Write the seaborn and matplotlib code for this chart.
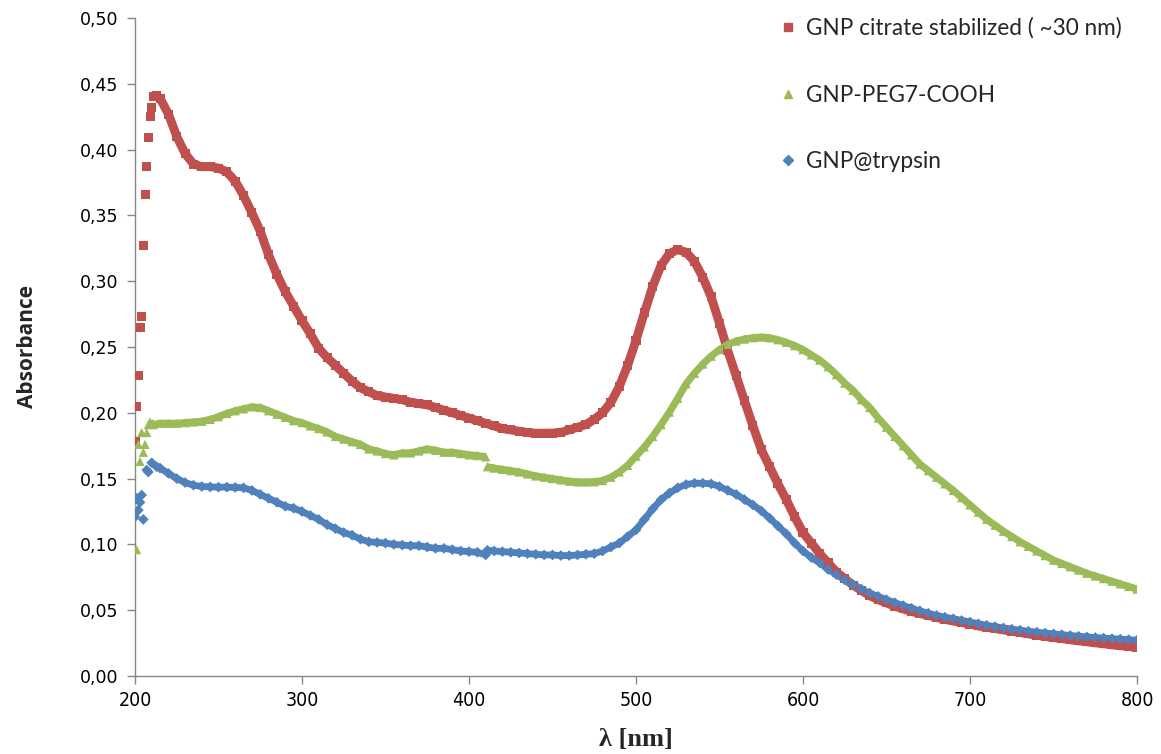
import matplotlib
matplotlib.use("Agg")
import numpy as np
import pandas as pd
import matplotlib.pyplot as plt
import seaborn as sns
from matplotlib.ticker import FuncFormatter, MultipleLocator
from matplotlib.lines import Line2D

# ---------------- data ----------------
red_nm = [200, 201, 202, 203, 204, 205, 206, 207, 208, 209, 210, 211, 213, 215,
          220, 225, 230, 235, 240, 245, 250, 255, 260, 265, 270, 275, 280, 285, 290, 295,
          300, 305, 310, 315, 320, 325, 330, 335, 340, 345, 350, 355, 360, 365, 370, 375,
          380, 385, 390, 395, 400, 405, 410, 415, 420, 425, 430, 435, 440, 445, 450, 455,
          460, 465, 470, 475, 480, 485, 490, 495, 500, 505, 510, 515, 520, 525, 530, 535,
          540, 545, 550, 555, 560, 565, 570, 575, 580, 585, 590, 595, 600, 605, 610, 615,
          620, 625, 630, 635, 640, 645, 650, 655, 660, 665, 670, 675, 680, 685, 690, 695,
          700, 705, 710, 715, 720, 725, 730, 735, 740, 745, 750, 755, 760, 765, 770, 775,
          780, 785, 790, 795, 800]
red_abs = [0.178, 0.205, 0.228, 0.265, 0.273, 0.327, 0.366, 0.387, 0.409, 0.425, 0.432, 0.440, 0.441, 0.439,
           0.427, 0.410, 0.397, 0.389, 0.387, 0.387, 0.386, 0.383, 0.376, 0.365, 0.352, 0.338, 0.320, 0.305, 0.292, 0.281,
           0.270, 0.260, 0.249, 0.242, 0.236, 0.230, 0.224, 0.219, 0.216, 0.213, 0.212, 0.211, 0.210, 0.208, 0.207, 0.206,
           0.204, 0.202, 0.200, 0.198, 0.196, 0.194, 0.192, 0.190, 0.188, 0.187, 0.186, 0.185, 0.1845, 0.1845, 0.1846, 0.185,
           0.187, 0.189, 0.191, 0.195, 0.200, 0.208, 0.220, 0.236, 0.255, 0.276, 0.296, 0.312, 0.321, 0.324, 0.322, 0.315,
           0.303, 0.288, 0.268, 0.247, 0.228, 0.209, 0.190, 0.172, 0.159, 0.146, 0.134, 0.121, 0.109, 0.101, 0.093, 0.086,
           0.079, 0.074, 0.069, 0.065, 0.061, 0.058, 0.0555, 0.053, 0.051, 0.049, 0.0475, 0.046, 0.0445, 0.043, 0.0418, 0.0406,
           0.0395, 0.038, 0.037, 0.036, 0.035, 0.034, 0.033, 0.032, 0.031, 0.030, 0.0293, 0.0284, 0.0275, 0.0267, 0.026, 0.0252,
           0.0245, 0.0237, 0.023, 0.0224, 0.0218]

green_nm = [200, 201, 202, 203, 204, 205, 206, 207, 208, 209, 211, 215,
            220, 225, 230, 235, 240, 245, 250, 255, 260, 265, 270, 275, 280, 285, 290, 295,
            300, 305, 310, 315, 320, 325, 330, 335, 340, 345, 350, 355, 360, 365, 370, 375,
            380, 385, 390, 395, 400, 405, 410,
            411, 415, 420, 425, 430, 435, 440, 445, 450, 455,
            460, 465, 470, 475, 480, 485, 490, 495, 500, 505, 510, 515, 520, 525, 530, 535,
            540, 545, 550, 555, 560, 565, 570, 575, 580, 585, 590, 595, 600, 605, 610, 615,
            620, 625, 630, 635, 640, 645, 650, 655, 660, 665, 670, 675, 680, 685, 690, 695,
            700, 705, 710, 715, 720, 725, 730, 735, 740, 745, 750, 755, 760, 765, 770, 775,
            780, 785, 790, 795, 800]
green_abs = [0.128, 0.096, 0.176, 0.163, 0.185, 0.170, 0.176, 0.185, 0.191, 0.193, 0.191, 0.192,
             0.192, 0.192, 0.1925, 0.193, 0.1935, 0.195, 0.197, 0.1995, 0.2015, 0.203, 0.2045, 0.204, 0.2015, 0.199, 0.1965, 0.194,
             0.1925, 0.190, 0.188, 0.1855, 0.182, 0.180, 0.178, 0.176, 0.1725, 0.171, 0.169, 0.168, 0.1695, 0.1695, 0.171, 0.1725,
             0.1715, 0.170, 0.170, 0.169, 0.168, 0.1675, 0.1665,
             0.159, 0.158, 0.157, 0.156, 0.155, 0.1535, 0.152, 0.151, 0.150, 0.149,
             0.148, 0.1475, 0.1474, 0.1476, 0.1485, 0.151, 0.155, 0.160, 0.167, 0.174, 0.182, 0.191, 0.2005, 0.211, 0.222, 0.230,
             0.237, 0.243, 0.248, 0.252, 0.2545, 0.256, 0.257, 0.2575, 0.257, 0.2555, 0.2535, 0.251, 0.248, 0.244, 0.240, 0.235,
             0.229, 0.2225, 0.217, 0.210, 0.204, 0.196, 0.189, 0.182, 0.175, 0.168, 0.161, 0.156, 0.151, 0.146, 0.141, 0.1355,
             0.130, 0.1245, 0.119, 0.1145, 0.110, 0.106, 0.102, 0.0985, 0.095, 0.0915, 0.088, 0.0855, 0.083, 0.0805, 0.078, 0.076,
             0.074, 0.072, 0.070, 0.068, 0.066]

blue_nm = [200, 201, 202, 203, 204, 205, 207, 208, 210, 213, 215,
           220, 225, 230, 235, 240, 245, 250, 255, 260, 265, 270, 275, 280, 285, 290, 295,
           300, 305, 310, 315, 320, 325, 330, 335, 340, 345, 350, 355, 360, 365, 370, 375,
           380, 385, 390, 395, 400, 405, 410,
           411, 415, 420, 425, 430, 435, 440, 445, 450, 455,
           460, 465, 470, 475, 480, 485, 490, 495, 500, 505, 510, 515, 520, 525, 530, 535,
           540, 545, 550, 555, 560, 565, 570, 575, 580, 585, 590, 595, 600, 605, 610, 615,
           620, 625, 630, 635, 640, 645, 650, 655, 660, 665, 670, 675, 680, 685, 690, 695,
           700, 705, 710, 715, 720, 725, 730, 735, 740, 745, 750, 755, 760, 765, 770, 775,
           780, 785, 790, 795, 800]
blue_abs = [0.121, 0.135, 0.126, 0.132, 0.1375, 0.119, 0.1565, 0.155, 0.162, 0.159, 0.158,
            0.154, 0.150, 0.147, 0.145, 0.144, 0.1437, 0.1435, 0.1435, 0.1433, 0.143, 0.141, 0.138, 0.135, 0.132, 0.129, 0.1275,
            0.125, 0.122, 0.119, 0.115, 0.112, 0.109, 0.107, 0.104, 0.102, 0.1015, 0.101, 0.100, 0.0995, 0.099, 0.099, 0.098,
            0.097, 0.097, 0.096, 0.095, 0.0945, 0.094, 0.092,
            0.0955, 0.095, 0.0945, 0.094, 0.0935, 0.093, 0.0925, 0.092, 0.092, 0.0915,
            0.0915, 0.092, 0.0925, 0.093, 0.095, 0.098, 0.101, 0.106, 0.111, 0.119, 0.127, 0.134, 0.139, 0.143, 0.1455, 0.1465,
            0.1465, 0.146, 0.144, 0.141, 0.138, 0.134, 0.130, 0.1255, 0.120, 0.114, 0.108, 0.101, 0.095, 0.090, 0.086, 0.081,
            0.077, 0.073, 0.0695, 0.066, 0.063, 0.0605, 0.058, 0.0557, 0.0535, 0.0515, 0.0495, 0.0477, 0.046, 0.0447, 0.0435, 0.0422,
            0.041, 0.0397, 0.0385, 0.0375, 0.0365, 0.0356, 0.0348, 0.034, 0.0333, 0.0326, 0.032, 0.0314, 0.0308, 0.0302, 0.0297, 0.0292,
            0.0288, 0.0284, 0.028, 0.0276, 0.0272]

labels = ["GNP citrate stabilized ( ~30 nm)", "GNP-PEG7-COOH", "GNP@trypsin"]
colors = ["#C0504D", "#9BBB59", "#4F81BD"]
markers = ["s", "^", "D"]

# ---------------- figure ----------------
sns.set_theme(style="white")
plt.rcParams["font.family"] = ["DejaVu Sans"]

fig = plt.figure(figsize=(11.61, 7.54), dpi=100)
ax = fig.add_axes([135 / 1161, 1 - 676 / 754, 1002 / 1161, 658 / 754])

series = [(red_nm, red_abs), (green_nm, green_abs), (blue_nm, blue_abs)]
# continuous bands: (start, end) wavelength ranges of the densely sampled parts
bands = [[(211, 800)], [(209, 410), (411, 800)], [(210, 410), (411, 800)]]
band_lw = [6.4, 5.2, 4.9]
msize = [42, 44, 30]

for (nm, ab), lab, c, m, bnd, lw, ms in zip(series, labels, colors, markers, bands, band_lw, msize):
    df = pd.DataFrame({"nm": nm, "abs": ab})
    seg = np.full(len(df), -1)
    for k, (a, b) in enumerate(bnd):
        seg[(df["nm"] >= a) & (df["nm"] <= b)] = k
    df["seg"] = seg
    dl = df[df["seg"] >= 0]
    sns.lineplot(data=dl, x="nm", y="abs", units="seg", estimator=None,
                 color=c, lw=lw, ax=ax, legend=False, solid_capstyle="butt")
    sns.scatterplot(data=df, x="nm", y="abs", marker=m, s=ms, color=c,
                    edgecolor="none", linewidth=0, ax=ax, legend=False, zorder=3)

ax.set_xlim(200, 800)
ax.set_ylim(0, 0.5)
ax.xaxis.set_major_locator(MultipleLocator(100))
ax.yaxis.set_major_locator(MultipleLocator(0.05))
ax.yaxis.set_major_formatter(FuncFormatter(lambda v, p: f"{v:.2f}".replace(".", ",")))

for s in ["top", "right"]:
    ax.spines[s].set_visible(False)
for s in ["left", "bottom"]:
    ax.spines[s].set_color("#868686")
    ax.spines[s].set_linewidth(1.0)

ax.tick_params(axis="both", which="major", direction="out", length=6, width=1,
               color="#868686", labelcolor="black", bottom=True, left=True)
ax.tick_params(axis="y", labelsize=12.5, pad=6)
ax.tick_params(axis="x", labelsize=14, pad=5)
for t in ax.get_xticklabels():
    t.set_fontstretch("condensed")

ax.set_xlabel("λ [nm]", fontsize=19, fontweight="bold", family=["Liberation Serif", "DejaVu Serif"], labelpad=13)
ax.set_ylabel("Absorbance", fontsize=15, fontweight="bold", family=["Open Sans", "DejaVu Sans"], labelpad=30)

handles = [Line2D([0], [0], marker=m, color=c, linestyle="none", markersize=6 if m != "D" else 5)
           for m, c in zip(markers, colors)]
leg = ax.legend(handles, labels, loc="upper left", bbox_to_anchor=(0.618, 1.032),
                frameon=False, labelspacing=2.02, handletextpad=0.2, handlelength=1.2,
                prop={"family": ["Lato", "DejaVu Sans"], "size": 16.3})

fig.savefig("out.png", dpi=100)
